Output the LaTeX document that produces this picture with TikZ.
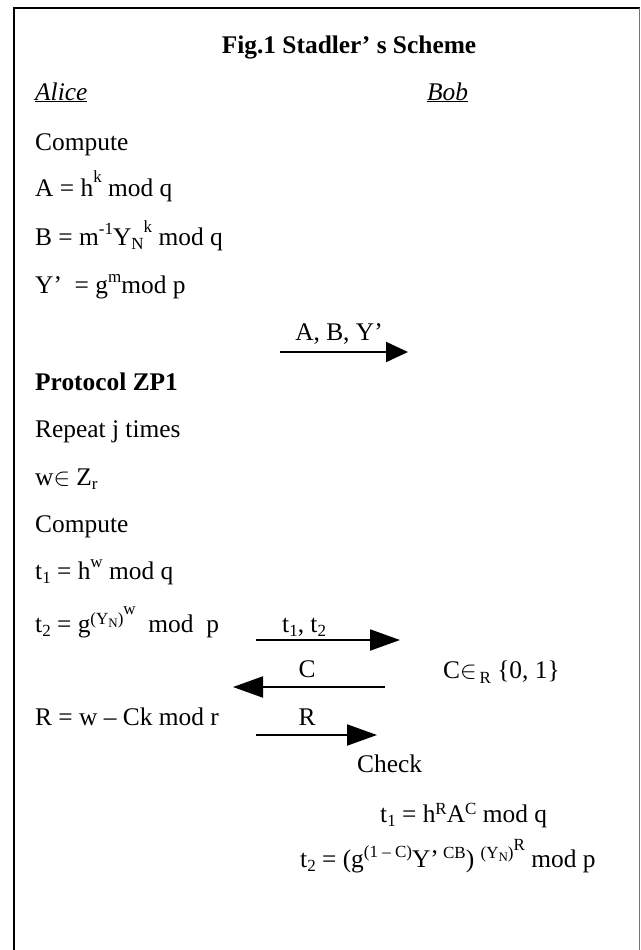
\documentclass[tikz,border=0pt]{standalone}
\usepackage{fontspec}
\setmainfont{Liberation Serif}
\usetikzlibrary{arrows.meta}
\newcommand\fs{\fontsize{25.4}{30}\selectfont}
\newcommand\rz[3]{\raisebox{#1}{\fontsize{#2}{#2}\selectfont #3}}
\begin{document}
\begin{tikzpicture}[x=1pt,y=-1pt,
  txt/.style={anchor=base west,inner sep=0pt,font=\fs},
  lbl/.style={anchor=base,inner sep=0pt,font=\fs},
  arr/.style={line width=2pt,-{Triangle[length=30pt,width=21pt]}},
  arrsmall/.style={line width=2pt,-{Triangle[length=22pt,width=20pt]}}]
\useasboundingbox (0,0) rectangle (640,950);
% frame
\draw[line width=2pt] (14,950) -- (14,8) -- (640,8);
\draw[line width=1pt,black!55] (639,8) -- (639,950);
% title and parties
\node[lbl,font=\fs\bfseries] (title) at (349,53) {Fig.1 Stadler’ s Scheme};
\node[txt] (alice) at (35,100) {\underline{\textit{Alice}}};
\node[txt] (bob) at (427,100) {\underline{\textit{Bob}}};
% Alice's setup
\node[txt] (comp1) at (35,150) {Compute};
\node[txt] (eqA) at (35,196) {A = h\rz{14pt}{17}{k} mod q};
\node[txt] (eqB) at (35,245) {B = m\rz{11pt}{17}{-1}Y\rz{-4pt}{17}{N}\rz{13pt}{17}{k} mod q};
\node[txt] (eqY) at (35,293) {Y’\ \ = g\rz{11pt}{17}{m}mod p};
% first message
\node[lbl] (l1) at (339,340) {A, B, Y’};
\coordinate (a1s) at (280,352);
\coordinate (a1e) at (408,352);
\draw[arrsmall] (a1s) -- (a1e);
% protocol
\node[txt,font=\fs\bfseries] (zp) at (35,390) {Protocol ZP1};
\node[txt] (rep) at (35,437) {Repeat j times};
\node[txt] (w) at (35,485) {w$\in$ Z\rz{-4pt}{17}{r}};
\node[txt] (comp2) at (35,532) {Compute};
\node[txt] (t1) at (35,579) {t\rz{-4pt}{17}{1} = h\rz{12pt}{17}{w} mod q};
\node[txt] (t2) at (35,632) {t\rz{-4pt}{17}{2} = g\rz{8pt}{17}{(Y\rz{-3pt}{13}{N})}\rz{18pt}{17}{w}\ \ mod\ \ p};
% t1,t2 message
\node[txt] (l2) at (282,632) {t\rz{-4pt}{17}{1}, t\rz{-4pt}{17}{2}};
\coordinate (a2s) at (256,640);
\coordinate (a2e) at (400,640);
\draw[arr] (a2s) -- (a2e);
% challenge
\node[lbl] (l3) at (307,677) {C};
\node[txt] (cr) at (443,678) {C$\in$\rz{-5pt}{17}{\,R} \{0, 1\}};
\coordinate (a3s) at (385,687);
\coordinate (a3e) at (233,687);
\draw[arr] (a3s) -- (a3e);
% response
\node[txt] (rr) at (35,725) {R = w – Ck mod r};
\node[lbl] (l4) at (307,725) {R};
\coordinate (a4s) at (256,735);
\coordinate (a4e) at (377,735);
\draw[arr] (a4s) -- (a4e);
% check
\node[txt] (chk) at (357,772) {Check};
\node[txt] (c1) at (380,822) {t\rz{-4pt}{17}{1} = h\rz{8pt}{17}{R}A\rz{8pt}{17}{C} mod q};
\node[txt] (c2) at (300,867) {t\rz{-4pt}{17}{2} = (g\rz{10pt}{17}{(1 – C)}Y’\rz{9pt}{17}{ CB}) \rz{9pt}{17}{(Y\rz{-3pt}{13}{N})}\rz{17pt}{17}{R}\ mod p};
\end{tikzpicture}
\end{document}
